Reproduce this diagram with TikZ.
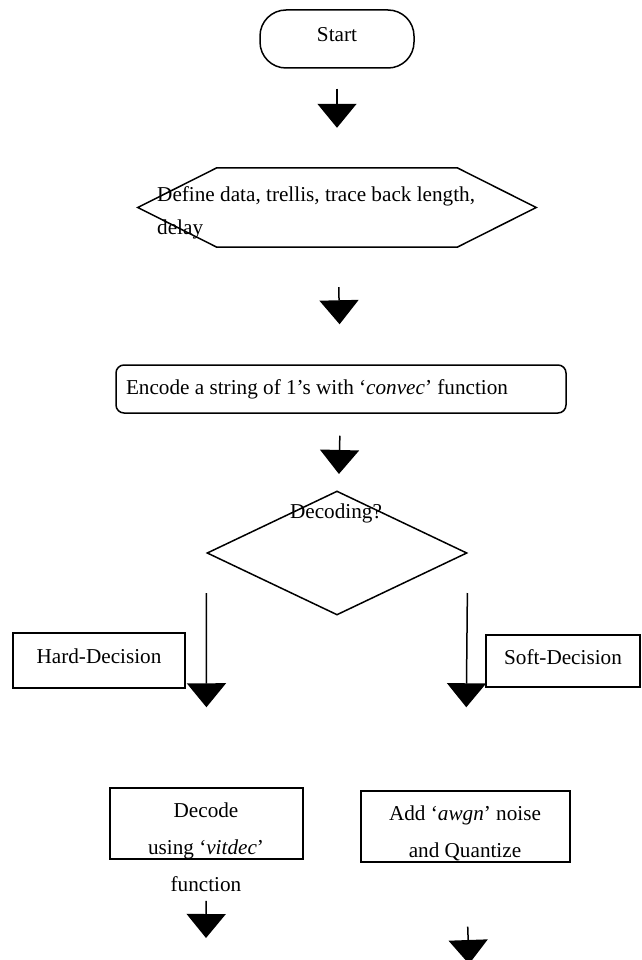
\documentclass[tikz,border=0pt]{standalone}
\usepackage{fontspec}
\setmainfont{Liberation Serif}
\usetikzlibrary{arrows.meta, shapes.geometric}

\tikzset{
  every node/.style={font=\fontsize{21.2}{33}\selectfont},
  box/.style={draw, line width=1.5pt, inner sep=0pt},
  txt/.style={inner sep=0pt},
  bigarrow/.style={line width=1.5pt, -{Triangle[width=39pt, length=24pt]}},
}

\begin{document}
\begin{tikzpicture}[x=1pt, y=-1pt]
\useasboundingbox (0,0) rectangle (641,960);
% Define nodes
\path
(337,39) node[box, rounded corners=26pt, minimum width=154pt, minimum height=58pt, text depth=10pt] (start) {Start}
(337,207.5) node[inner sep=0pt, minimum width=240pt, minimum height=79pt] (define) {}
(157,213) node[txt, anchor=west, align=left] (definetext) {Define data, trellis, trace back length,\\delay}
(341,389) node[box, rounded corners=8pt, text width=430pt, inner xsep=10pt, minimum height=48pt, align=flush left] (encode) {Encode a string of 1’s with ‘\textit{convec}’ function}
(337,553) node[box, diamond, minimum width=260pt, minimum height=124pt] (decision) {}
(336,513) node[txt] (decisiontext) {Decoding?}
;

\draw[line width=1.5pt, line join=miter]
(define.north west) -- (define.north east) -- ([xshift=79pt]define.east) -- (define.south east)
-- (define.south west) -- ([xshift=-79pt]define.west) -- cycle;

\path
(99,660.5) node[box, minimum width=172pt, minimum height=55pt, text depth=8pt] (hard) {Hard-Decision}
(563,661) node[box, minimum width=154pt, minimum height=52pt, text depth=8pt] (soft) {Soft-Decision}
(206.5,823.5) node[box, minimum width=193pt, minimum height=71pt] (decode) {}
(206,847) node[txt, align=center, font=\fontsize{21.2}{37}\selectfont] (decodetext) {Decode\\using ‘\textit{vitdec}’\\function}
(465.5,826.5) node[box, minimum width=209pt, minimum height=71pt] (add) {}
(465,833) node[txt, align=center, font=\fontsize{21.2}{37}\selectfont] (addtext) {Add ‘\textit{awgn}’ noise\\and Quantize}
;
\coordinate (endl) at (206,938);
\coordinate (endr) at (469,964);

% Arrows
\draw[bigarrow, shorten <=20pt, shorten >=40pt] (start) -- (define);
\draw[bigarrow, shorten <=40pt, shorten >=40pt] (define) -- (encode);
\draw[bigarrow, shorten <=22pt, shorten >=17pt] (encode) -- (decision);
\draw[bigarrow, shorten <=40pt, shorten >=80pt] (decision.west) -- (decode.north);
\draw[bigarrow, shorten <=40pt, shorten >=83pt] (decision.east) -- (add.north);
\draw[bigarrow, shorten <=41pt] (decode.south) -- (endl);
\draw[bigarrow, shorten <=64pt] (add.south) -- (endr);

\end{tikzpicture}
\end{document}
